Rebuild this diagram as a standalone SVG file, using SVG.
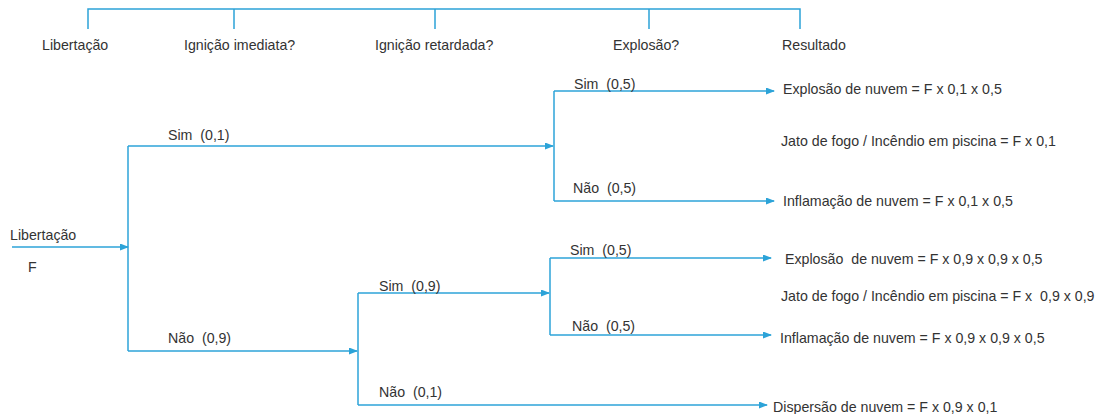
<svg xmlns="http://www.w3.org/2000/svg" width="1100" height="414" viewBox="0 0 1100 414">
<style>
text{font-family:"Liberation Sans",Arial,sans-serif;font-size:14.2px;fill:#333}
.ln{fill:none;stroke:#2CA3D8;stroke-width:1.5}
.ar{fill:none;stroke:#2CA3D8;stroke-width:1.5;marker-end:url(#ah)}
</style>
<defs>
<marker id="ah" markerWidth="9" markerHeight="7" refX="8" refY="3.5" orient="auto" markerUnits="userSpaceOnUse">
<path d="M0,0 L9,3.5 L0,7 Z" fill="#2CA3D8"/>
</marker>
</defs>
<rect width="1100" height="414" fill="#fff"/>
<g id="header">
<path class="ln" d="M88,29 V9 H800 V29 M234,9 V29 M435,9 V29 M649,9 V29"/>
<text x="42" y="50">Libertação</text>
<text x="184" y="50">Ignição imediata?</text>
<text x="375" y="50">Ignição retardada?</text>
<text x="613" y="50">Explosão?</text>
<text x="782" y="50">Resultado</text>
</g>
<g id="connectors">
<path class="ar" d="M12,247 H128"/>
<path class="ln" d="M128,146 V351"/>
<path class="ar" d="M128,146 H553"/>
<path class="ar" d="M128,351 H357"/>
<path class="ln" d="M554,91 V201"/>
<path class="ar" d="M554,91 H774"/>
<path class="ar" d="M554,201 H774"/>
<path class="ln" d="M358,293 V405"/>
<path class="ar" d="M358,293 H549"/>
<path class="ar" d="M358,405 H767"/>
<path class="ln" d="M550,258 V335"/>
<path class="ar" d="M550,258 H771"/>
<path class="ar" d="M550,335 H771"/>
</g>
<g id="n-release">
<text x="10" y="240">Libertação</text>
<text x="28" y="272">F</text>
</g>
<g id="labels">
<text x="168" y="140" xml:space="preserve">Sim  (0,1)</text>
<text x="168" y="343" xml:space="preserve">Não  (0,9)</text>
<text x="574" y="89" xml:space="preserve">Sim  (0,5)</text>
<text x="573" y="193" xml:space="preserve">Não  (0,5)</text>
<text x="379" y="291" xml:space="preserve">Sim  (0,9)</text>
<text x="570" y="255" xml:space="preserve">Sim  (0,5)</text>
<text x="572" y="331" xml:space="preserve">Não  (0,5)</text>
<text x="379" y="397" xml:space="preserve">Não  (0,1)</text>
</g>
<g id="outcomes">
<text x="783" y="94">Explosão de nuvem = F x 0,1 x 0,5</text>
<text x="781" y="146">Jato de fogo / Incêndio em piscina = F x 0,1</text>
<text x="783" y="206">Inflamação de nuvem = F x 0,1 x 0,5</text>
<text x="785" y="264" xml:space="preserve">Explosão  de nuvem = F x 0,9 x 0,9 x 0,5</text>
<text x="781" y="301" xml:space="preserve">Jato de fogo / Incêndio em piscina = F x  0,9 x 0,9</text>
<text x="780" y="343">Inflamação de nuvem = F x 0,9 x 0,9 x 0,5</text>
<text x="773" y="412">Dispersão de nuvem = F x 0,9 x 0,1</text>
</g>
</svg>
